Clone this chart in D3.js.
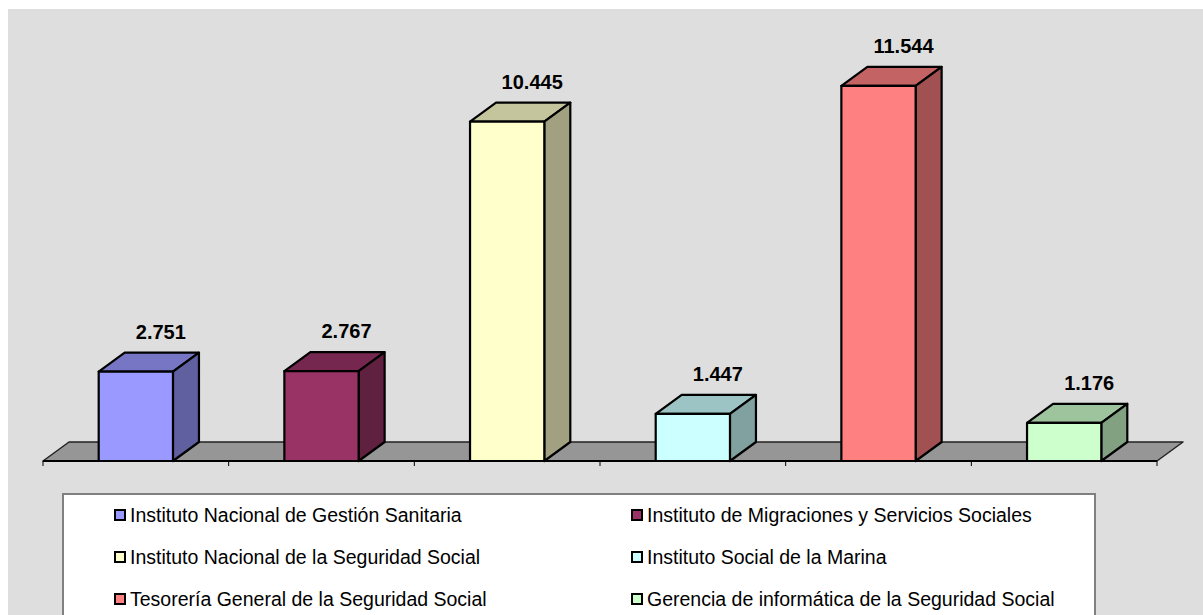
<!DOCTYPE html>
<html>
<head>
<meta charset="utf-8">
<script src="https://cdn.jsdelivr.net/npm/d3@7"></script>
<style>
  body { margin: 0; background: #fff; }
  svg { display: block; }
</style>
</head>
<body>
<script>
// chart data
var categories = [
  "Instituto Nacional de Gestión Sanitaria",
  "Instituto de Migraciones y Servicios Sociales",
  "Instituto Nacional de la Seguridad Social",
  "Instituto Social de la Marina",
  "Tesorería General de la Seguridad Social",
  "Gerencia de informática de la Seguridad Social"
];
var values = [2751, 2767, 10445, 1447, 11544, 1176];
var colors = ["#9999FF", "#993366", "#FFFFCC", "#CCFFFF", "#FF8080", "#CCFFCC"];

var width = 1203, height = 615;
var floorY = 461;
var depthX = 26, depthY = -19;

var svg = d3.select("body").append("svg")
    .attr("width", width)
    .attr("height", height);

// grey chart area
svg.append("rect")
    .attr("x", 8).attr("y", 9)
    .attr("width", width - 8).attr("height", height - 9)
    .attr("fill", "#dedede");

var x = d3.scaleBand()
    .domain(d3.range(categories.length))
    .range([43, 1157])
    .paddingInner(0.6)
    .paddingOuter(0.3);

var y = d3.scaleLinear()
    .domain([0, 14000])
    .range([floorY, floorY - 455]);

var step = x.step();
var x0 = 43, x1 = 1157;

// floor
svg.append("polygon")
    .attr("points", [[x0, floorY], [x1, floorY], [x1 + depthX, floorY + depthY], [x0 + depthX, floorY + depthY]].join(" "))
    .attr("fill", "#969696")
    .attr("stroke", "#222")
    .attr("stroke-width", 1.5)
    .attr("stroke-linejoin", "round");

svg.append("line")
    .attr("x1", x0).attr("x2", x1)
    .attr("y1", floorY).attr("y2", floorY)
    .attr("stroke", "#000").attr("stroke-width", 2);

// ticks between categories
svg.selectAll(".tick")
    .data(d3.range(categories.length + 1))
    .enter().append("line")
    .attr("x1", function(i) { return x0 + i * step; })
    .attr("x2", function(i) { return x0 + i * step; })
    .attr("y1", floorY).attr("y2", floorY + 5)
    .attr("stroke", "#000").attr("stroke-width", 1);

function shade(c, k) {
  var r = d3.rgb(c);
  return d3.rgb(r.r * k, r.g * k, r.b * k).toString();
}

var bars = svg.selectAll(".bar")
    .data(values)
    .enter().append("g")
    .attr("class", "bar");

bars.each(function(v, i) {
  var g = d3.select(this);
  var bx = x(i), bw = x.bandwidth(), top = y(v);
  var pts = function(a) { return a.map(function(p) { return p.join(","); }).join(" "); };
  // top face
  g.append("polygon")
      .attr("points", pts([[bx, top], [bx + bw, top], [bx + bw + depthX, top + depthY], [bx + depthX, top + depthY]]))
      .attr("fill", shade(colors[i], 0.77));
  // side face
  g.append("polygon")
      .attr("points", pts([[bx + bw, top], [bx + bw + depthX, top + depthY], [bx + bw + depthX, floorY + depthY], [bx + bw, floorY]]))
      .attr("fill", shade(colors[i], 0.63));
  // front face
  g.append("rect")
      .attr("x", bx).attr("y", top)
      .attr("width", bw).attr("height", floorY - top)
      .attr("fill", colors[i]);
  g.selectAll("polygon, rect")
      .attr("stroke", "#000")
      .attr("stroke-width", 2.2)
      .attr("stroke-linejoin", "round");
});

// value labels, spanish thousands separator
var es = d3.formatLocale({decimal: ",", thousands: ".", grouping: [3], currency: ["", "€"]});
var fmt = es.format(",d");

svg.selectAll(".val")
    .data(values)
    .enter().append("text")
    .attr("x", function(d, i) { return x(i) + x.bandwidth() / 2 + 25; })
    .attr("y", function(d) { return y(d) - 33; })
    .attr("text-anchor", "middle")
    .attr("font-family", "Liberation Sans, Arial, sans-serif")
    .attr("font-weight", "bold")
    .attr("font-size", 20)
    .attr("fill", "#000")
    .text(fmt);

// legend
var legend = svg.append("g");
legend.append("rect")
    .attr("x", 63).attr("y", 494)
    .attr("width", 1032).attr("height", 140)
    .attr("fill", "#fff")
    .attr("stroke", "#808080")
    .attr("stroke-width", 2);

var item = legend.selectAll(".item")
    .data(categories)
    .enter().append("g")
    .attr("transform", function(d, i) {
      return "translate(" + (i % 2 === 0 ? 115 : 632) + "," + (515 + Math.floor(i / 2) * 42) + ")";
    });

item.append("rect")
    .attr("x", 0).attr("y", -5)
    .attr("width", 10).attr("height", 10)
    .attr("fill", function(d, i) { return colors[i]; })
    .attr("stroke", "#000")
    .attr("stroke-width", 2);

item.append("text")
    .attr("x", 15).attr("y", 7)
    .attr("font-family", "Liberation Sans, Arial, sans-serif")
    .attr("font-size", 19.5)
    .attr("fill", "#000")
    .text(function(d) { return d; });
</script>
</body>
</html>
